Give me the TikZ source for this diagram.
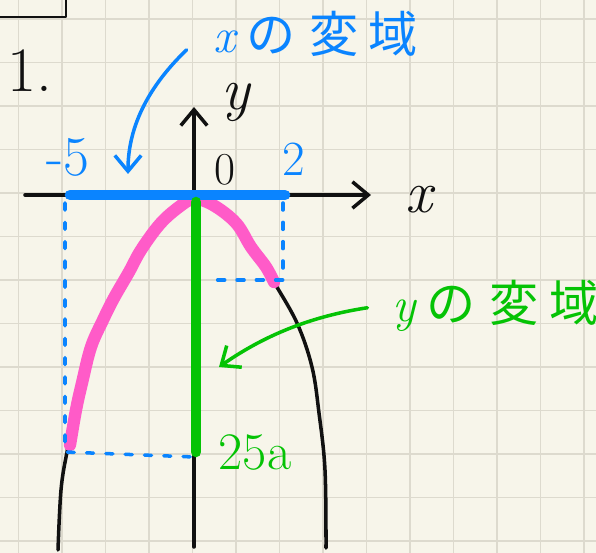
\documentclass[tikz,border=0pt]{standalone}
\usepackage{fontspec}
\usetikzlibrary{arrows.meta}
\newfontfamily\jpfont{Noto Sans CJK JP}
\definecolor{paper}{HTML}{F7F5EA}
\definecolor{gridgrey}{HTML}{DDDACE}
\definecolor{ink}{HTML}{111111}
\definecolor{inkblue}{HTML}{0A84FF}
\definecolor{inkgreen}{HTML}{05C305}
\definecolor{inkpink}{HTML}{FF5BC8}

\begin{document}
\begin{tikzpicture}[
    x=0.02cm, y=-0.02cm,
    gridline/.style={draw=gridgrey, line width=0.7pt},
    pen/.style={draw=#1, line width=2pt, line cap=round, line join=round},
    hilite/.style={draw=#1, line width=6pt, line cap=round, line join=round},
    guide/.style={draw=inkblue, line width=2pt, line cap=round, dash pattern=on 4pt off 7pt},
    hand/.style={text=#1, inner sep=0pt, font=\fontsize{28}{30}\selectfont},
    barb/.style={-{Straight Barb[length=9pt, width=15pt]}},
]

% ════════════════════════════════════════
% Paper and grid
% ════════════════════════════════════════
\fill[paper] (0,0) rectangle (596,553);
\useasboundingbox (0,0) rectangle (596,553);
\foreach \k in {0,...,13}
    \draw[gridline] ({18.5+43.5*\k},0) -- ({18.5+43.5*\k},553);
\foreach \k in {0,...,12}
    \draw[gridline] (0,{19+43.5*\k}) -- (596,{19+43.5*\k});

% ════════════════════════════════════════
% Question number
% ════════════════════════════════════════
\draw[pen=ink, line width=1.6pt] (66,-4) -- (66,17) -- (-4,17);
\node[hand=ink, font=\fontsize{36}{36}\selectfont] (qnum) at (30,71) {1.};

% ════════════════════════════════════════
% Axes
% ════════════════════════════════════════
\coordinate (O) at (194,195);
\coordinate (xstart) at (25,195);
\coordinate (xend) at (371,195);
\coordinate (ystart) at (194,547);
\coordinate (yend) at (194,107);

\draw[pen=ink, barb] (xstart) -- (xend);
\draw[pen=ink, barb] (ystart) -- (yend);

\node[hand=ink, font=\itshape\fontsize{34}{34}\selectfont] (xlbl) at (419,200) {x};
\node[hand=ink, font=\itshape\fontsize{34}{34}\selectfont] (ylbl) at (236,102) {y};
\node[hand=ink, font=\fontsize{26}{26}\selectfont] (olbl) at (225,170) {0};

% ════════════════════════════════════════
% Parabola (black) and the part in range (pink)
% ════════════════════════════════════════
\draw[pen=ink] plot[smooth, tension=0.6] coordinates {
    (58,550) (61,490) (67,452) (76,410) (82,383) (91,347) (103,320)
    (114,298) (129,272) (141,250) (160,224) (179,207) (194,198)
    (213,205) (236,223) (251,247) (266,267) (274,282) (297,323)
    (312,367) (319,413) (325,470) (326,548)};

\draw[hilite=inkpink, line width=7pt] plot[smooth, tension=0.6] coordinates {
    (70,445) (76,410) (82,383) (91,347) (103,320) (114,298) (129,272)
    (141,250) (160,224) (179,207) (194,199) (213,205) (236,223)
    (251,247) (266,267) (274,282)};

% ════════════════════════════════════════
% Dashed guides
% ════════════════════════════════════════
\draw[guide] (65,203) -- (65,452) -- (194,457);
\draw[guide] (283,203) -- (283,280) -- (206,280);

% ════════════════════════════════════════
% Domain of x (blue)
% ════════════════════════════════════════
\coordinate (xmin) at (70,195);
\coordinate (xmax) at (285,195);
\draw[hilite=inkblue] (xmin) -- (xmax);

\node[hand=inkblue, font=\fontsize{32}{32}\selectfont] (lblmin) at (68,157) {-5};
\node[hand=inkblue] (lblmax) at (294,159) {2};

\node[hand=inkblue, anchor=west] (xdomlbl) at (213,34)
    {{\itshape x}\hspace{6pt}\jpfont の\hspace{8pt}変\hspace{6pt}域};
\coordinate (xdomtip) at (128,174);
\draw[pen=inkblue, barb] ([xshift=-15pt, yshift=-9pt]xdomlbl.west)
    .. controls (150,85) and (128,125) .. (xdomtip);

% ════════════════════════════════════════
% Range of y (green)
% ════════════════════════════════════════
\coordinate (ymax) at (196,202);
\coordinate (ymin) at (196,452);
\draw[hilite=inkgreen] (ymax) -- (ymin);

\node[hand=inkgreen, font=\fontsize{30}{30}\selectfont] (lblrange) at (255,453) {25a};

\node[hand=inkgreen, anchor=west] (ydomlbl) at (392,306)
    {{\itshape y}\hspace{6pt}\jpfont の\hspace{8pt}変\hspace{6pt}域};
\coordinate (ydomtip) at (219,367);
\draw[pen=inkgreen, barb] ([xshift=-14pt, yshift=-1pt]ydomlbl.west)
    .. controls (300,318) and (255,342) .. (ydomtip);

\end{tikzpicture}
\end{document}
